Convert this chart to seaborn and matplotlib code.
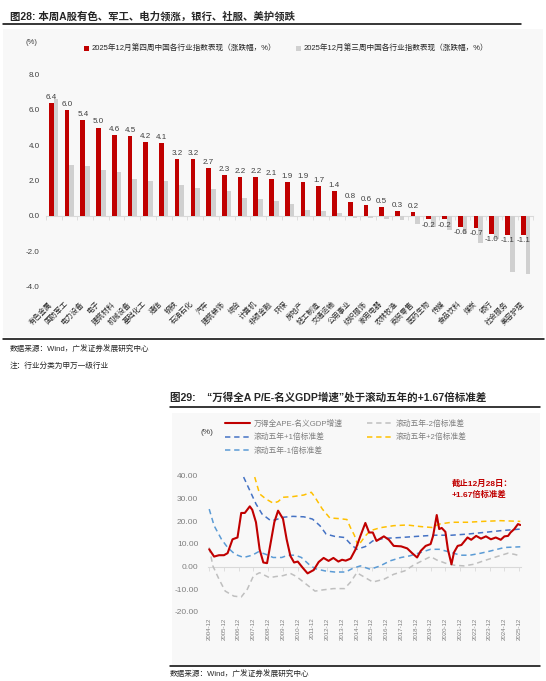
import numpy as np
import pandas as pd
import seaborn as sns
import matplotlib.pyplot as plt
import matplotlib.dates as mdates
import matplotlib.transforms as mtrans
from matplotlib.lines import Line2D
from matplotlib.patches import Rectangle

# ---------- data: chart 28 ----------
industries = ['有色金属', '国防军工', '电力设备', '电子', '建筑材料', '机械设备', '基础化工', '通信',
              '钢铁', '石油石化', '汽车', '建筑装饰', '综合', '计算机', '非银金融', '环保', '房地产',
              '轻工制造', '交通运输', '公用事业', '纺织服饰', '家用电器', '农林牧渔', '商贸零售',
              '医药生物', '传媒', '食品饮料', '煤炭', '银行', '社会服务', '美容护理']
week4 = [6.4, 6.0, 5.4, 5.0, 4.6, 4.5, 4.2, 4.1, 3.2, 3.2, 2.7, 2.3, 2.2, 2.2, 2.1, 1.9, 1.9,
         1.7, 1.4, 0.8, 0.6, 0.5, 0.3, 0.2, -0.2, -0.2, -0.6, -0.7, -1.0, -1.1, -1.1]
week3 = [6.6, 2.9, 2.85, 2.6, 2.5, 2.1, 2.0, 1.95, 1.75, 1.6, 1.5, 1.4, 1.0, 0.95, 0.85, 0.65, 0.32,
         0.27, 0.15, -0.1, -0.1, -0.2, -0.25, -0.45, -0.6, -0.8, -1.05, -1.55, -1.3, -3.15, -3.3]
label_w4 = '2025年12月第四周中国各行业指数表现（涨跌幅，%）'
label_w3 = '2025年12月第三周中国各行业指数表现（涨跌幅，%）'

# ---------- data: chart 29 ----------
pe_dates = ['2004-12', '2005-04', '2005-08', '2005-12', '2006-03', '2006-07', '2006-11', '2007-02',
            '2007-05', '2007-09', '2007-11', '2008-02', '2008-05', '2008-08', '2008-11', '2009-01',
            '2009-05', '2009-08', '2009-12', '2010-03', '2010-06', '2010-09', '2010-12', '2011-04',
            '2011-08', '2012-01', '2012-05', '2012-09', '2013-01', '2013-05', '2013-09', '2013-12',
            '2014-03', '2014-07', '2014-11', '2015-03', '2015-07', '2015-10', '2016-01', '2016-04',
            '2016-10', '2017-02', '2017-06', '2017-12', '2018-05', '2018-09', '2019-01', '2019-04',
            '2019-08', '2019-12', '2020-02', '2020-05', '2020-07', '2020-09', '2020-12', '2021-02',
            '2021-05', '2021-07', '2021-10', '2022-01', '2022-06', '2022-09', '2023-01', '2023-05',
            '2023-09', '2024-01', '2024-05', '2024-09', '2024-12', '2025-03', '2025-05', '2025-08',
            '2025-11', '2025-12-28']
pe_vals = [7.6, 4.4, 5.0, 5.0, 5.9, 12.0, 12.8, 23.6, 23.6, 26.5, 25.0, 19.5, 7.6, 1.8, 1.5, 7.6,
           19.6, 24.6, 21.0, 12.0, 4.7, 1.8, 2.2, -0.5, -3.0, -1.5, 2.0, 3.8, 2.5, 3.8, 2.2, 3.0,
           2.6, 3.5, 7.6, 13.5, 19.2, 15.0, 15.0, 11.3, 13.3, 11.8, 9.1, 8.9, 8.0, 5.9, 4.0, 6.9,
           9.1, 9.9, 13.5, 22.7, 16.5, 17.0, 15.3, 7.6, 1.0, 6.2, 9.1, 9.5, 12.8, 11.8, 13.5, 12.3,
           13.3, 12.0, 12.8, 11.8, 13.3, 13.5, 15.0, 16.5, 18.7, 18.3]

m2_dates = ['2004-12', '2005-03', '2005-08', '2006-01', '2006-08', '2007-02', '2007-07', '2007-12',
            '2008-05', '2009-01', '2009-06', '2009-12', '2010-06', '2010-11', '2011-07', '2012-02',
            '2012-08', '2013-05', '2014-02', '2014-07', '2014-12', '2015-07', '2016-01', '2016-10',
            '2017-06', '2018-03', '2018-10', '2019-05', '2019-12', '2020-05', '2020-12', '2021-07',
            '2022-03', '2022-11', '2023-07', '2024-06', '2025-03', '2025-08', '2025-12-28']
m2_vals = [8.4, 0.3, -5.6, -10.8, -13.0, -13.4, -10.0, -4.1, -2.7, -4.9, -4.4, -4.0, -3.0, -4.4,
           -7.8, -10.8, -10.3, -9.7, -9.7, -6.8, -2.7, -4.9, -6.8, -5.6, -3.4, -1.9, 0.6, 2.5, 4.4,
           2.9, 1.5, 0.6, 0.3, 1.0, 2.5, 4.4, 5.9, 5.4, 4.7]

m1_dates = ['2004-12', '2005-04', '2005-10', '2006-03', '2006-09', '2007-04', '2007-11', '2008-04',
            '2008-10', '2009-04', '2009-11', '2010-04', '2010-10', '2011-03', '2011-09', '2012-02',
            '2012-10', '2013-06', '2014-03', '2014-09', '2015-03', '2015-11', '2016-07', '2017-03',
            '2017-12', '2018-07', '2019-04', '2019-12', '2020-07', '2021-05', '2021-12', '2022-08',
            '2023-05', '2024-01', '2024-12', '2025-12-28']
m1_vals = [25.3, 18.0, 12.0, 8.4, 5.4, 4.0, 5.0, 6.5, 5.4, 4.0, 4.0, 5.0, 5.0, 4.0, 1.0, -0.9,
           -1.9, -2.4, -2.4, -0.7, 0.3, -1.2, 0.3, 2.5, 4.0, 4.7, 6.2, 7.6, 7.6, 6.2, 5.0, 5.0,
           5.9, 6.9, 8.4, 8.7]

p1_dates = ['2007-04', '2007-09', '2008-02', '2008-07', '2009-02', '2009-06', '2009-12', '2010-08',
            '2011-05', '2011-12', '2012-06', '2012-11', '2013-06', '2014-02', '2014-07', '2014-12',
            '2015-07', '2016-01', '2016-10', '2017-12', '2019-01', '2020-03', '2021-05', '2022-06',
            '2023-07', '2024-09', '2025-12-28']
p1_vals = [39.4, 33.5, 27.6, 23.1, 20.2, 20.6, 21.7, 22.1, 21.9, 20.9, 18.0, 14.3, 13.3, 12.8,
           9.9, 7.6, 8.8, 11.3, 12.4, 12.8, 13.3, 13.8, 13.8, 14.3, 15.0, 15.8, 16.5]

p2_dates = ['2008-01', '2008-05', '2008-10', '2009-04', '2009-08', '2009-12', '2010-08', '2011-05',
            '2011-11', '2012-02', '2012-08', '2013-02', '2013-10', '2014-04', '2014-07', '2014-10',
            '2015-01', '2015-07', '2015-11', '2016-07', '2017-06', '2018-05', '2019-04', '2020-01',
            '2020-07', '2021-05', '2022-06', '2023-07', '2024-09', '2025-12-28']
p2_vals = [39.4, 32.0, 29.8, 27.9, 28.6, 30.5, 30.8, 31.5, 32.7, 30.5, 25.3, 21.4, 21.1, 20.7,
           17.0, 13.8, 9.1, 13.5, 15.8, 17.1, 18.0, 18.3, 17.6, 17.2, 18.7, 19.5, 19.5, 19.9, 20.2,
           19.9]

s_pe = '万得全APE-名义GDP增速'
s_m2 = '滚动五年-2倍标准差'
s_p1 = '滚动五年+1倍标准差'
s_p2 = '滚动五年+2倍标准差'
s_m1 = '滚动五年-1倍标准差'
years = list(range(2004, 2026))

RED = '#C00000'
colors = {s_pe: RED, s_m2: '#BFBFBF', s_p1: '#4472C4', s_p2: '#FFC000', s_m1: '#5B9BD5'}
dash_map = {s_pe: '', s_m2: (3.5, 2.5), s_p1: (3.5, 2.5), s_p2: (3.5, 2.5), s_m1: (3.5, 2.5)}
widths = {s_pe: 1.5, s_m2: 1.1, s_p1: 1.1, s_p2: 1.1, s_m1: 1.1}

sns.set_theme(style='white')
plt.rcParams['font.family'] = ['Liberation Sans', 'Noto Sans CJK SC', 'DejaVu Sans']
plt.rcParams['axes.unicode_minus'] = False

W, H = 546, 681


def fx(x):
    return x / W


def fy(y):
    return 1 - y / H


fig = plt.figure(figsize=(W / 100, H / 100), dpi=100)

# panels and rules
fig.add_artist(Rectangle((fx(3), fy(337)), 540 / W, 308 / H, transform=fig.transFigure,
                         facecolor='#f8f8f8', edgecolor='none', zorder=-5))
fig.add_artist(Rectangle((fx(172), fy(665)), 368 / W, 252 / H, transform=fig.transFigure,
                         facecolor='#f8f8f8', edgecolor='none', zorder=-5))
for x0, x1, y in [(3, 521, 24), (3, 544, 339), (170, 540, 407), (170, 540, 666)]:
    fig.add_artist(Line2D([fx(x0), fx(x1)], [fy(y), fy(y)], color='black', lw=1.1,
                          transform=fig.transFigure))

fig.text(fx(10), fy(16), '图28: 本周A股有色、军工、电力领涨，银行、社服、美护领跌',
         fontsize=7.5, fontweight='bold', va='center')
fig.text(fx(10), fy(350), '数据来源：Wind，广发证券发展研究中心', fontsize=5.5, va='center')
fig.text(fx(10), fy(366), '注：行业分类为申万一级行业', fontsize=5.5, va='center')
fig.text(fx(170), fy(397), '图29:    “万得全A P/E-名义GDP增速”处于滚动五年的+1.67倍标准差',
         fontsize=7.6, fontweight='bold', va='center')
fig.text(fx(170), fy(675), '数据来源：Wind，广发证券发展研究中心', fontsize=5.5, va='center')
fig.text(fx(31), fy(42), '(%)', fontsize=5.5, ha='center', va='center', color='#404040')
fig.text(fx(207), fy(433), '(%)', fontsize=6, ha='center', va='center', color='#404040')

# ---------- chart 28 ----------
n = len(industries)
df1 = pd.DataFrame({'industry': industries * 2,
                    'value': week4 + week3,
                    'week': [label_w4] * n + [label_w3] * n})
ax1 = fig.add_axes([fx(45.8), fy(286.6), 487.6 / W, (286.6 - 74.5) / H])
ax1.set_facecolor('none')
sns.barplot(data=df1, x='industry', y='value', hue='week', order=industries,
            hue_order=[label_w4, label_w3], palette=[RED, '#D0D0D0'], width=0.6,
            errorbar=None, saturation=1, linewidth=0, ax=ax1)
ax1.bar_label(ax1.containers[0], fmt='%.1f', padding=1.5, fontsize=5.8, color='#404040')
ax1.set_xlim(-0.5, n - 0.5)
ax1.set_ylim(-4, 8)
ax1.set_yticks(np.arange(-4, 8.1, 2))
ax1.set_yticklabels([f'{v:.1f}' for v in np.arange(-4, 8.1, 2)])
ax1.set_xlabel('')
ax1.set_ylabel('')
sns.despine(ax=ax1, left=True, bottom=True)
ax1.tick_params(axis='y', length=0, labelsize=5.8, labelcolor='#404040', pad=4.5)
ax1.tick_params(axis='x', length=0, labelsize=5.2, pad=10)
ax1.set_xticks(range(n), industries, rotation=45, ha='right', va='top', rotation_mode='anchor')
shift = mtrans.ScaledTranslation(-5 / 100, 0, fig.dpi_scale_trans)
for lab in ax1.get_xticklabels():
    lab.set_transform(lab.get_transform() + shift)
h, l = ax1.get_legend_handles_labels()
ax1.legend(h, l, loc='lower left', bbox_to_anchor=(fx(84), fy(53)), bbox_transform=fig.transFigure,
           ncol=2, frameon=False, fontsize=5.5, handlelength=0.7, handleheight=0.7,
           handletextpad=0.3, columnspacing=2.6, borderpad=0, borderaxespad=0)
zero1 = ax1.secondary_xaxis(1 / 3)
zero1.set_xticks(np.arange(-0.5, n, 1.0))
zero1.set_xticklabels([])
zero1.tick_params(axis='x', length=3, width=0.6, color='#d9d9d9')
for sp in zero1.spines.values():
    sp.set_color('#d9d9d9')
    sp.set_linewidth(0.8)

# ---------- chart 29 ----------
frames = []
for name, dts, vals in [(s_m2, m2_dates, m2_vals), (s_m1, m1_dates, m1_vals),
                        (s_p1, p1_dates, p1_vals), (s_p2, p2_dates, p2_vals),
                        (s_pe, pe_dates, pe_vals)]:
    frames.append(pd.DataFrame({'date': pd.to_datetime(dts, format='mixed'),
                                'value': vals, 'series': name}))
df2 = pd.concat(frames, ignore_index=True)

ax2 = fig.add_axes([fx(208), fy(612), 313 / W, (612 - 475.7) / H])
ax2.set_facecolor('none')
sns.lineplot(data=df2, x='date', y='value', hue='series', style='series', size='series',
             palette=colors, dashes=dash_map, sizes=widths, estimator=None, legend=False, ax=ax2)
ax2.set_xlim(pd.Timestamp('2004-11-01'), pd.Timestamp('2026-01-15'))
ax2.set_ylim(-20, 40)
ax2.set_yticks(np.arange(-20, 41, 10))
ax2.set_yticklabels([f'{v:.2f}' for v in np.arange(-20, 41, 10)])
tick_dates = [pd.Timestamp(f'{y}-12-01') for y in years]
ax2.set_xticks(tick_dates, [f'{y}-12' for y in years], rotation=90)
ax2.set_xlabel('')
ax2.set_ylabel('')
sns.despine(ax=ax2, left=True, bottom=True)
ax2.tick_params(axis='y', length=0, labelsize=6, labelcolor='#7f7f7f', pad=7)
ax2.tick_params(axis='x', length=0, labelsize=4.4, labelcolor='#7f7f7f', pad=4)
zero2 = ax2.secondary_xaxis(1 / 3)
zero2.set_xticks(mdates.date2num(tick_dates))
zero2.set_xticklabels([])
zero2.tick_params(axis='x', length=3, width=0.6, color='#d9d9d9')
for sp in zero2.spines.values():
    sp.set_color('#d9d9d9')
    sp.set_linewidth(0.8)

order = [s_pe, s_p1, s_m1, s_m2, s_p2]
handles = [Line2D([], [], color=colors[s], lw=widths[s],
                  dashes=dash_map[s] if dash_map[s] else (None, None)) for s in order]
ax2.legend(handles, order, loc='upper left', bbox_to_anchor=(fx(225), fy(419.5)),
           bbox_transform=fig.transFigure, ncol=2, frameon=False, fontsize=5.6,
           labelcolor='#7f7f7f', handlelength=3.2, handletextpad=0.45, columnspacing=3.2,
           labelspacing=0.72, borderpad=0, borderaxespad=0)

fig.text(fx(452), fy(489.5), '截止12月28日：\n+1.67倍标准差', color=RED, fontsize=6,
         fontweight='bold', va='center', ha='left', linespacing=1.5)

fig.savefig('out.png', dpi=100)
